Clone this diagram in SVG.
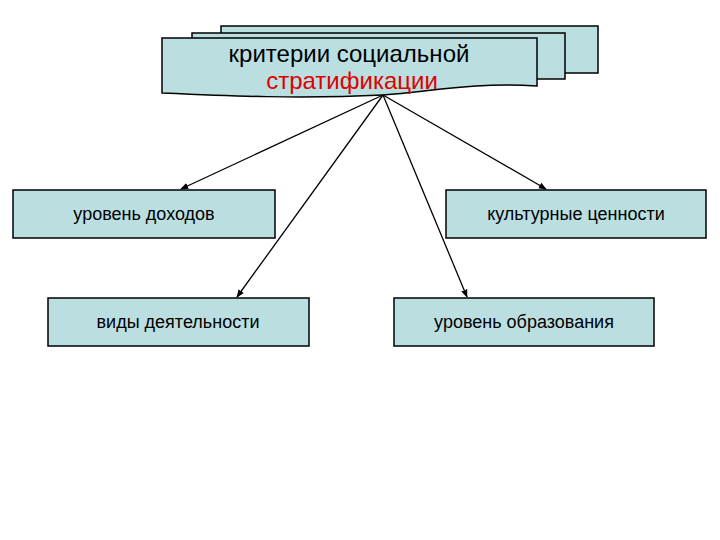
<svg xmlns="http://www.w3.org/2000/svg" width="720" height="540" viewBox="0 0 720 540">
<style>
.box{fill:#BBDFE1;stroke:#000;stroke-width:1.5}
.lbl{font-family:"Liberation Sans",Arial,sans-serif;font-size:18px;fill:#000;text-anchor:middle}
.ttl{font-family:"Liberation Sans",Arial,sans-serif;font-size:24px;text-anchor:middle}
.con{stroke:#000;stroke-width:1.3;fill:none;marker-end:url(#ah)}
</style>
<defs>
<marker id="ah" viewBox="0 0 10 10" refX="9" refY="5" markerWidth="8" markerHeight="8" markerUnits="userSpaceOnUse" orient="auto">
<path d="M0,1 L10,5 L0,9 z" fill="#000"/>
</marker>
</defs>
<rect width="720" height="540" fill="#fff"/>
<g id="root">
<rect class="box" x="221" y="26" width="377" height="47"/>
<rect class="box" x="192" y="33" width="373" height="46"/>
<path class="box" d="M162,38 L537,38 L537,86 C470,82 430,92 383,95 C300,99 230,96 162,93 Z"/>
<text class="ttl" x="349" y="62" fill="#000">критерии социальной</text>
<text class="ttl" x="352" y="89" fill="#E00000">стратификации</text>
</g>
<g id="n1"><rect class="box" x="13" y="190" width="262" height="48"/><text class="lbl" x="144" y="220">уровень доходов</text></g>
<g id="n2"><rect class="box" x="446" y="190" width="260" height="48"/><text class="lbl" x="576" y="220">культурные ценности</text></g>
<g id="n3"><rect class="box" x="48" y="298" width="261" height="48"/><text class="lbl" x="178" y="328">виды деятельности</text></g>
<g id="n4"><rect class="box" x="394" y="298" width="260" height="48"/><text class="lbl" x="524" y="328">уровень образования</text></g>
<g id="connectors">
<line class="con" x1="383" y1="95" x2="181" y2="189"/>
<line class="con" x1="383" y1="95" x2="237" y2="297"/>
<line class="con" x1="383" y1="95" x2="467" y2="297"/>
<line class="con" x1="383" y1="95" x2="546" y2="189"/>
</g>
</svg>
